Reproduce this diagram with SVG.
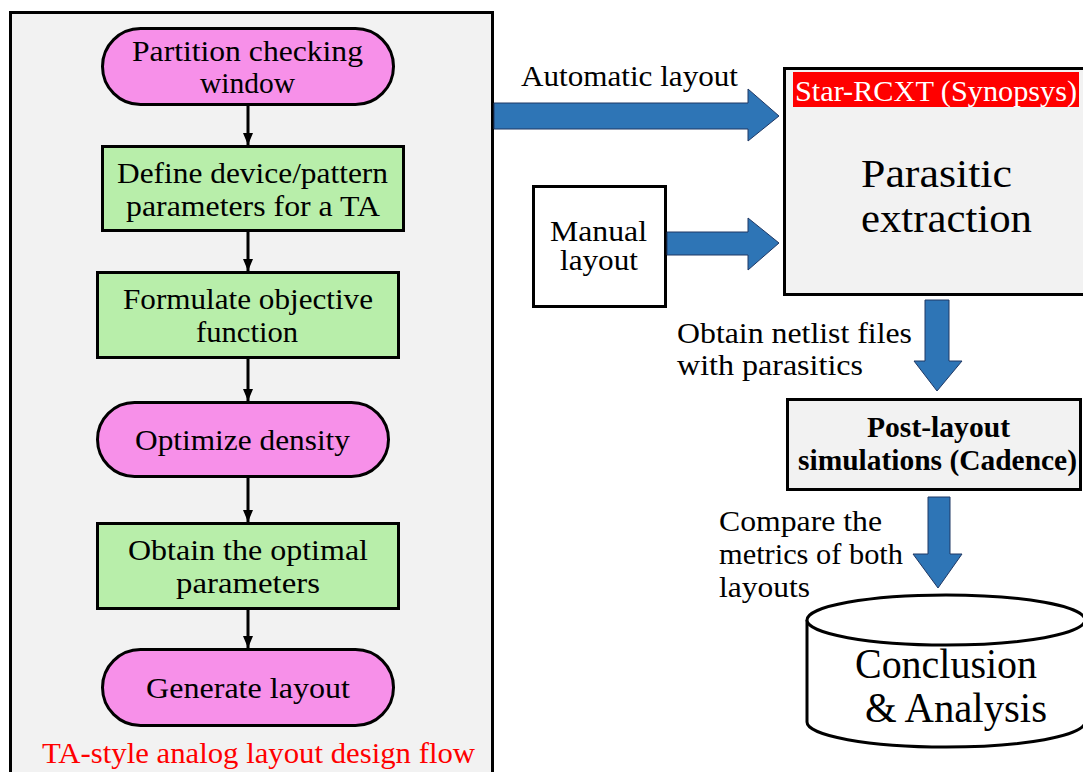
<svg xmlns="http://www.w3.org/2000/svg" width="1083" height="772" viewBox="0 0 1083 772" font-family="Liberation Serif, serif">
  <defs>
    <style>
      .t28 { font-size: 29px; }
      .mid { text-anchor: middle; }
      .pill { fill: #f790e9; stroke: #000; stroke-width: 3; }
      .step { fill: #b8eeaa; stroke: #000; stroke-width: 3; }
      .frame { fill: #f2f2f2; stroke: #000; stroke-width: 3; }
      .plain { fill: #fff; stroke: #000; stroke-width: 3; }
      .flow { stroke: #000; stroke-width: 3; fill: none; }
      .fat { fill: #2e75b6; stroke: #1f3864; stroke-width: 1; }
      .red { fill: #ff0000; font-size: 29px; }
    </style>
    <marker id="head" viewBox="0 0 12 10" refX="12" refY="5" markerWidth="12" markerHeight="10" markerUnits="userSpaceOnUse" orient="auto">
      <path d="M0,0 L12,5 L0,10 Z" fill="#000"/>
    </marker>
  </defs>

  <rect width="1083" height="772" fill="#fff"/>

  <!-- left panel: TA-style flow -->
  <g id="flow-panel">
    <rect class="frame" x="10.5" y="12.5" width="482" height="790"/>
    <text class="red mid" x="258.5" y="763" textLength="433" lengthAdjust="spacingAndGlyphs">TA-style analog layout design flow</text>
  </g>

  <g id="partition">
    <rect class="pill" x="102.5" y="28.5" width="291" height="76" rx="38"/>
    <text class="t28 mid" x="247.5" y="61" textLength="231" lengthAdjust="spacingAndGlyphs">Partition checking</text>
    <text class="t28 mid" x="247.5" y="93" textLength="95" lengthAdjust="spacingAndGlyphs">window</text>
  </g>

  <g id="define">
    <rect class="step" x="102.5" y="146.5" width="301" height="84"/>
    <text class="t28 mid" x="252.5" y="183" textLength="271" lengthAdjust="spacingAndGlyphs">Define device/pattern</text>
    <text class="t28 mid" x="253" y="216" textLength="254" lengthAdjust="spacingAndGlyphs">parameters for a TA</text>
  </g>

  <g id="formulate">
    <rect class="step" x="97.5" y="272.5" width="301" height="85"/>
    <text class="t28 mid" x="248" y="309" textLength="250" lengthAdjust="spacingAndGlyphs">Formulate objective</text>
    <text class="t28 mid" x="247" y="342" textLength="102" lengthAdjust="spacingAndGlyphs">function</text>
  </g>

  <g id="optimize">
    <rect class="pill" x="97.5" y="402.5" width="291" height="74" rx="37"/>
    <text class="t28 mid" x="242.5" y="450" textLength="215" lengthAdjust="spacingAndGlyphs">Optimize density</text>
  </g>

  <g id="obtain">
    <rect class="step" x="97.5" y="523.5" width="301" height="85"/>
    <text class="t28 mid" x="248" y="560" textLength="240" lengthAdjust="spacingAndGlyphs">Obtain the optimal</text>
    <text class="t28 mid" x="248" y="593" textLength="144" lengthAdjust="spacingAndGlyphs">parameters</text>
  </g>

  <g id="generate">
    <rect class="pill" x="102.5" y="649.5" width="291" height="76" rx="38"/>
    <text class="t28 mid" x="248" y="698" textLength="204" lengthAdjust="spacingAndGlyphs">Generate layout</text>
  </g>

  <!-- right side -->
  <g id="manual">
    <rect class="plain" x="533.5" y="186.5" width="132" height="120"/>
    <text class="t28 mid" x="598.5" y="241" textLength="97" lengthAdjust="spacingAndGlyphs">Manual</text>
    <text class="t28 mid" x="599" y="270" textLength="78" lengthAdjust="spacingAndGlyphs">layout</text>
  </g>

  <g id="extraction">
    <rect class="frame" x="784.5" y="68.5" width="310" height="226"/>
    <rect x="793" y="72" width="286" height="35" fill="#ff0000"/>
    <text class="t28 mid" x="936" y="101" textLength="282" lengthAdjust="spacingAndGlyphs" style="fill:#fff">Star-RCXT (Synopsys)</text>
    <text class="mid" x="936.5" y="187" font-size="39" textLength="151" lengthAdjust="spacingAndGlyphs">Parasitic</text>
    <text class="mid" x="946.5" y="232" font-size="39" textLength="171" lengthAdjust="spacingAndGlyphs">extraction</text>
  </g>

  <g id="simulation">
    <rect class="frame" x="787.5" y="399.5" width="293" height="90"/>
    <text class="t28 mid" x="938.5" y="437" font-weight="bold" textLength="143" lengthAdjust="spacingAndGlyphs">Post-layout</text>
    <text class="t28 mid" x="937.5" y="470" font-weight="bold" textLength="279" lengthAdjust="spacingAndGlyphs">simulations (Cadence)</text>
  </g>

  <g id="conclusion">
    <path class="plain" d="M807,620 L807,722 A139,25 0 0 0 1085,722 L1085,620"/>
    <ellipse class="plain" cx="946" cy="620" rx="139" ry="25"/>
    <text class="mid" x="946" y="678" font-size="43" textLength="182" lengthAdjust="spacingAndGlyphs">Conclusion</text>
    <text class="mid" x="956" y="722" font-size="43" textLength="182" lengthAdjust="spacingAndGlyphs">&amp; Analysis</text>
  </g>

  <!-- connectors -->
  <g id="connectors">
    <line class="flow" x1="248" y1="106" x2="248" y2="145" marker-end="url(#head)"/>
    <line class="flow" x1="248" y1="232" x2="248" y2="271" marker-end="url(#head)"/>
    <line class="flow" x1="248" y1="359" x2="248" y2="401" marker-end="url(#head)"/>
    <line class="flow" x1="248" y1="478" x2="248" y2="522" marker-end="url(#head)"/>
    <line class="flow" x1="248" y1="610" x2="248" y2="648" marker-end="url(#head)"/>

    <polygon class="fat" points="494,103 748,103 748,89 779,116 748,141 748,129 494,129"/>
    <polygon class="fat" points="667,232 748,232 748,218 779,243 748,270 748,255 667,255"/>
    <polygon class="fat" points="925,300 949,300 949,361 962,361 937,391 914,361 925,361"/>
    <polygon class="fat" points="928,497 950,497 950,554 962,554 938,588 913,554 928,554"/>

    <text class="t28" x="521" y="86" textLength="217" lengthAdjust="spacingAndGlyphs">Automatic layout</text>
    <text class="t28" x="677" y="343" textLength="235" lengthAdjust="spacingAndGlyphs">Obtain netlist files</text>
    <text class="t28" x="677" y="375" textLength="186" lengthAdjust="spacingAndGlyphs">with parasitics</text>
    <text class="t28" x="719" y="531" textLength="163" lengthAdjust="spacingAndGlyphs">Compare the</text>
    <text class="t28" x="719" y="564" textLength="184" lengthAdjust="spacingAndGlyphs">metrics of both</text>
    <text class="t28" x="719" y="597" textLength="91" lengthAdjust="spacingAndGlyphs">layouts</text>
  </g>
</svg>
